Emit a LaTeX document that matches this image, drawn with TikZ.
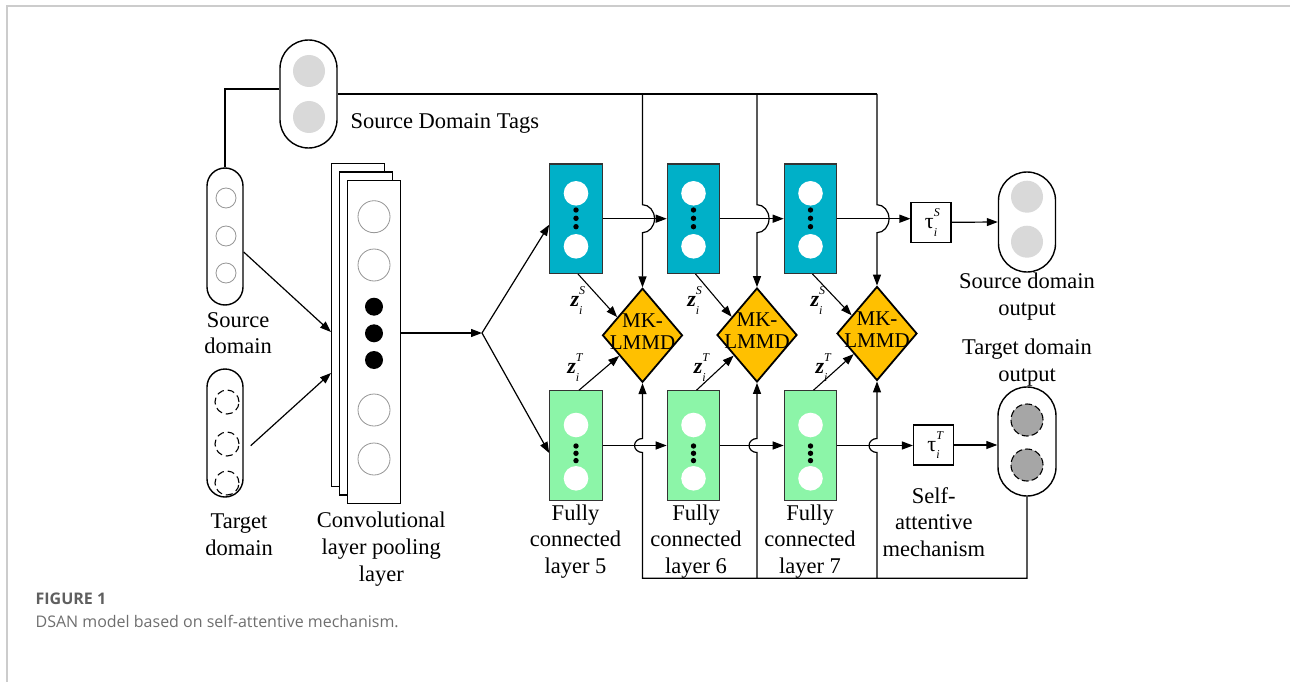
\documentclass[tikz,border=0pt]{standalone}
\usepackage{fontspec}
\setmainfont{Liberation Serif}
\newfontfamily\capfont{Open Sans}
\usetikzlibrary{arrows.meta,shapes.geometric,calc}
\definecolor{fcblue}{RGB}{0,176,200}
\definecolor{fcgreen}{RGB}{140,245,168}
\definecolor{mkorange}{RGB}{255,192,0}
\definecolor{tagsgray}{RGB}{217,217,217}
\definecolor{tgtgray}{RGB}{166,166,166}
\definecolor{framegray}{RGB}{204,204,204}
\definecolor{capgray}{RGB}{95,95,95}
\definecolor{capgraylt}{RGB}{110,110,110}
\definecolor{ringgray}{RGB}{150,150,150}
\newcommand{\supsub}[2]{\makebox[0pt][l]{\raisebox{0.55em}{\fontsize{12}{12}\selectfont\itshape #1}}\raisebox{-0.35em}{\fontsize{12}{12}\selectfont\itshape #2}}
\newcommand{\zvar}[1]{\textbf{\textit{z}}\supsub{#1}{i}}
\newcommand{\tauvar}[1]{τ\supsub{#1}{i}}
\begin{document}
\begin{tikzpicture}[x=1pt,y=-1pt,line width=1.2pt,>={Triangle[length=11pt,width=8pt]},
  lbl/.style={font=\fontsize{22.5}{26.7}\selectfont,align=center,inner sep=0pt,anchor=north},
  zlbl/.style={font=\fontsize{22}{22}\selectfont,inner sep=0pt,anchor=base west},
  pillbox/.style={draw,line width=1.4pt,rounded corners=#1,inner sep=0pt},
  layerbox/.style={draw,fill=white,line width=1.1pt,minimum width=53pt,minimum height=323pt,inner sep=0pt},
  fcbox/.style={draw=black!80,line width=1.1pt,minimum width=52.5pt,minimum height=109.5pt,inner sep=0pt},
  taubox/.style={draw,fill=white,line width=1.1pt,minimum width=40pt,minimum height=40pt,inner sep=0pt,font=\fontsize{22}{22}\selectfont},
  mk/.style={diamond,draw,line width=1.8pt,fill=mkorange,minimum width=80pt,minimum height=94pt,inner sep=0pt,
    label={[font=\fontsize{21}{22}\selectfont,align=center,yshift=4pt,inner sep=0pt]center:MK-\\LMMD}}
]
\useasboundingbox (0,0) rectangle (1290,682);
\draw[framegray,line width=2pt] (7,682) -- (7,6) -- (1290,6);

% source domain tags
\node[pillbox=28.5pt,minimum width=57pt,minimum height=108pt] (tags) at (308.5,94) {};
\fill[tagsgray] (309,71) circle[radius=16pt] (309,117) circle[radius=16pt];
\node[anchor=base west,inner sep=0pt,font=\fontsize{22.5}{27}\selectfont] (tagslbl) at (350,128.3) {Source Domain Tags};

% source / target domain
\node[pillbox=18pt,minimum width=36pt,minimum height=137pt] (src) at (225,236.5) {};
\foreach \y in {198,236,273} \draw[ringgray,line width=0.8pt] (226,\y) circle[radius=10pt];
\node[lbl] (srclbl) at (238,311.7) {Source\\domain};
\node[pillbox=18pt,minimum width=36pt,minimum height=128pt] (tgt) at (225,433) {};
\foreach \y in {402,444,483} \draw[line width=1.1pt,dash pattern=on 7pt off 4pt] (227,\y) circle[radius=12pt];
\node[lbl] (tgtlbl) at (239,513.3) {Target\\domain};

% convolution / pooling stack
\node[layerbox] (c1) at (358,325) {};
\node[layerbox] (c2) at (366,333.5) {};
\node[layerbox] (c3) at (374,342) {};
\foreach \y in {216.7,265,410,459} \draw[ringgray,line width=0.8pt] (374,\y) circle[radius=16pt];
\foreach \y in {306.7,333.3,360} \fill (374,\y) circle[radius=9pt];
\node[lbl] (convlbl) at (381.3,511.7) {Convolutional\\layer pooling\\layer};

\draw[->] ([yshift=-15.5pt]src.east) -- ([yshift=-7pt]c1.west);
\draw[->] ([xshift=7pt,yshift=-12.7pt]tgt.east) -- ([yshift=-48pt]c1.west);

% fully connected layers
\foreach \i/\x in {1/576,2/693.5,3/810.5} {
  \node[fcbox,fill=fcblue] (b\i) at (\x,218.7) {};
  \node[fcbox,fill=fcgreen] (g\i) at (\x,445.5) {};
  \fill[white] (\x,193.3) circle[radius=12.3pt] (\x,246.3) circle[radius=12.3pt];
  \fill[white] (\x,425) circle[radius=12.3pt] (\x,478.3) circle[radius=12.3pt];
  \fill (\x,210) circle[radius=2.7pt] (\x,218.3) circle[radius=2.7pt] (\x,226.7) circle[radius=2.7pt];
  \fill (\x,446) circle[radius=2.7pt] (\x,453.3) circle[radius=2.7pt] (\x,460.6) circle[radius=2.7pt];
}
\node[lbl] (fc5) at (575.5,504) {Fully\\connected\\layer 5};
\node[lbl] (fc6) at (696,504) {Fully\\connected\\layer 6};
\node[lbl] (fc7) at (810,504) {Fully\\connected\\layer 7};

% MK-LMMD
\node[mk] (d1) at (642.5,335.3) {};
\node[mk] (d2) at (757,335) {};
\node[mk] (d3) at (877,333.5) {};

% attention and outputs
\node[taubox] (tauS) at (931,222.3) {\tauvar{S}};
\node[taubox] (tauT) at (933.5,445) {\tauvar{T}};
\node[lbl] (attlbl) at (933.8,486.7) {Self-\\attentive\\mechanism};
\node[pillbox=28.5pt,minimum width=57pt,minimum height=100pt] (sout) at (1027,222) {};
\fill[tagsgray] (1027,196.7) circle[radius=16pt] (1027,241.7) circle[radius=16pt];
\node[lbl] (soutlbl) at (1027,272.7) {Source domain\\output};
\node[lbl] (toutlbl) at (1027,338.3) {Target domain\\output};
\node[pillbox=29pt,minimum width=58pt,minimum height=109pt] (tout) at (1027,441.5) {};
\foreach \y in {420,465} \draw[fill=tgtgray,line width=1.1pt,dash pattern=on 7pt off 3pt] (1027,\y) circle[radius=16pt];

% conv -> split -> FC
\coordinate (split) at (482,333);
\draw[->] (c3.east |- split) -- (split);
\draw[->] (split) -- ([yshift=-6pt]b1.west);
\draw[->] (split) -- ([yshift=-7.5pt]g1.west);

% horizontal flows
\draw[->] (b1.east) -- (b2.west);
\draw[->] (b2.east) -- (b3.west);
\draw[->] (b3.east) -- (b3.east -| tauS.west);
\draw[->] (tauS.east) -- (sout.west);
\draw[->] (g1.east) -- (g2.west);
\draw[->] (g2.east) -- (g3.west);
\draw[->] (g3.east) -- (g3.east -| tauT.west);
\draw[->] (tauT.east) -- (tauT.east -| tout.west);

% source tags feed
\draw ([yshift=5pt]tags.west) -| (src.north);
\draw (tags.east) -- (tags.east -| d3.north);
\foreach \i in {1,2,3}
  \draw[->] (tags.east -| d\i.north) -- ($(b1.east -| d\i.north)+(0,-14)$)
    arc[start angle=90,end angle=-90,x radius=12pt,y radius=14pt] -- (d\i.north);

% target feedback
\coordinate (bl) at (642.5,578.3);
\draw[->] (tout.south) |- (bl) -- ($(g1.east -| d1.south)+(0,7)$)
    arc[start angle=270,end angle=90,x radius=8pt,y radius=7pt] -- (d1.south);
\foreach \i in {2,3}
  \draw[->] (bl -| d\i.south) -- ($(g1.east -| d\i.south)+(0,7)$)
    arc[start angle=270,end angle=90,x radius=8pt,y radius=7pt] -- (d\i.south);

% z features
\foreach \i/\sx/\tx in {1/570/566.7,2/686.7/693.3,3/810/815} {
  \draw[->,line width=1.1pt] ([xshift=2pt]b\i.south) -- ($(d\i.west)!0.38!(d\i.north)$);
  \draw[->,line width=1.1pt] ([xshift=3pt]g\i.north) -- ($(d\i.west)!0.43!(d\i.south)$);
  \node[zlbl] (zs\i) at (\sx,306.7) {\zvar{S}};
  \node[zlbl] (zt\i) at (\tx,373.3) {\zvar{T}};
}

% caption
\node[anchor=base west,inner sep=0pt,font=\capfont\bfseries\fontsize{16}{16}\selectfont,text=capgray] (fig) at (35,604) {FIGURE 1};
\node[anchor=base west,inner sep=0pt,font=\capfont\fontsize{16}{16}\selectfont,text=capgraylt] (cap) at (35,627) {DSAN model based on self-attentive mechanism.};
\end{tikzpicture}
\end{document}
